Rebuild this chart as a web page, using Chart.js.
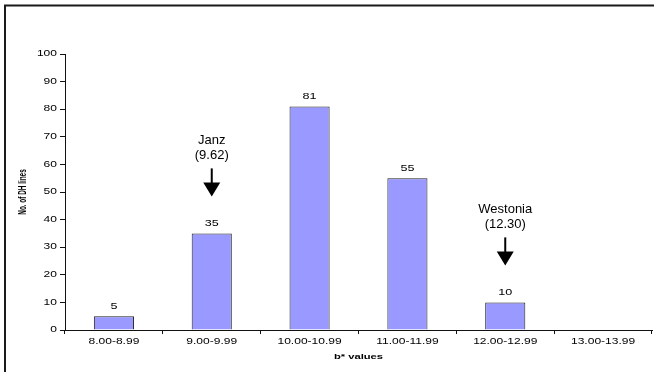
<!DOCTYPE html>
<html>
<head>
<meta charset="utf-8">
<title>b* values of DH lines</title>
<script src="https://cdn.jsdelivr.net/npm/chart.js@4/dist/chart.umd.min.js"></script>
<style>
  html, body { margin: 0; padding: 0; background: #fff; }
  canvas { display: block; }
</style>
</head>
<body>
<canvas id="chart" width="654" height="372"></canvas>
<script>
// b* value classes and the number of DH lines in each
const categories = ['8.00-8.99', '9.00-9.99', '10.00-10.99', '11.00-11.99', '12.00-12.99', '13.00-13.99'];
const lineCounts = [5, 35, 81, 55, 10, 0];

// value axis range
const yMin = 0;
const yMax = 100;
const yStep = 10;

// named check varieties, the class they fall in and their b* value
const markedNames = ['Janz', 'Westonia'];
const markedValues = ['9.62', '12.30'];
const markedCategories = ['9.00-9.99', '12.00-12.99'];

const FONT = "'Liberation Sans', Arial, sans-serif";
const TICK_TEXT_STRETCH = 1.45;
const TITLE_TEXT_STRETCH = 1.75;

const canvas = document.getElementById('chart');
const ctx = canvas.getContext('2d');

// The chart's own text is drawn wide (horizontally stretched about its anchor point);
// lines are left untouched. Bold text (axis titles) is widened more.
ctx.textStretch = null;
const nativeFillText = ctx.fillText.bind(ctx);
ctx.fillText = function (text, x, y, maxWidth) {
  const s = ctx.textStretch != null
    ? ctx.textStretch
    : (/bold/.test(ctx.font) ? TITLE_TEXT_STRETCH : TICK_TEXT_STRETCH);
  if (s === 1) {
    return maxWidth === undefined ? nativeFillText(text, x, y) : nativeFillText(text, x, y, maxWidth);
  }
  const m = ctx.getTransform();
  const p = m.transformPoint(new DOMPoint(x, y));
  ctx.save();
  ctx.setTransform(new DOMMatrix().translate(p.x, p.y).scale(s, 1).translate(-p.x, -p.y).multiply(m));
  if (maxWidth === undefined) nativeFillText(text, x, y);
  else nativeFillText(text, x, y, maxWidth);
  ctx.restore();
};

const frameAndNotes = {
  id: 'frameAndNotes',
  beforeDraw(chart) {
    const c = chart.ctx;
    c.save();
    c.fillStyle = '#fff';
    c.fillRect(0, 0, chart.width, chart.height);
    c.strokeStyle = '#1a1a1a';
    c.lineWidth = 2;
    c.beginPath();
    c.moveTo(5, chart.height + 5);
    c.lineTo(5, 5.5);
    c.lineTo(chart.width + 5, 5.5);
    c.stroke();
    c.restore();
  },
  afterDatasetsDraw(chart) {
    const c = chart.ctx;
    const meta = chart.getDatasetMeta(0);
    const xs = chart.scales.x;
    const ys = chart.scales.y;

    // value labels above the bars
    c.save();
    c.textStretch = 1.4;
    c.fillStyle = '#000';
    c.font = `9px ${FONT}`;
    c.textAlign = 'center';
    c.textBaseline = 'middle';
    meta.data.forEach((bar, i) => {
      const v = lineCounts[i];
      if (v > 0) c.fillText(String(v), bar.x, bar.y - 9.5);
    });
    c.restore();

    // named varieties: label, value and a down arrow above their class
    c.save();
    c.textStretch = 1;
    c.fillStyle = '#000';
    c.strokeStyle = '#000';
    c.font = `13px ${FONT}`;
    c.textAlign = 'center';
    c.textBaseline = 'middle';
    markedNames.forEach((name, k) => {
      const idx = categories.indexOf(markedCategories[k]);
      const x = xs.getPixelForValue(idx);
      const tip = ys.getPixelForValue(lineCounts[idx]) - 37;
      c.fillText(name, x, tip - 55.5);
      c.fillText(`(${markedValues[k]})`, x, tip - 40.5);
      c.lineWidth = 2;
      c.beginPath();
      c.moveTo(x, tip - 28);
      c.lineTo(x, tip - 13);
      c.stroke();
      c.beginPath();
      c.moveTo(x - 8.5, tip - 14);
      c.lineTo(x + 8.5, tip - 14);
      c.lineTo(x, tip);
      c.closePath();
      c.fill();
    });
    c.restore();
  }
};

new Chart(canvas, {
  type: 'bar',
  data: {
    labels: categories,
    datasets: [{
      data: lineCounts,
      backgroundColor: '#9999ff',
      borderColor: '#222',
      borderWidth: 1,
      barPercentage: 0.41,
      categoryPercentage: 1
    }]
  },
  options: {
    responsive: false,
    animation: false,
    events: [],
    layout: { padding: { left: 0, right: 2, top: 54, bottom: 0 } },
    plugins: {
      legend: { display: false },
      tooltip: { enabled: false }
    },
    scales: {
      x: {
        offset: true,
        grid: { offset: true, drawOnChartArea: false, drawTicks: true, tickLength: 4, color: '#111', lineWidth: 1 },
        border: { color: '#111', width: 1 },
        ticks: { color: '#000', font: { family: FONT, size: 8.3 }, padding: 3, maxRotation: 0, autoSkip: false },
        title: {
          display: true,
          text: 'b* values',
          color: '#000',
          font: { family: FONT, size: 6.4, weight: 'bold' },
          padding: { top: 0, bottom: 11 }
        },
        afterFit(scale) { scale.height = 42; }
      },
      y: {
        min: yMin,
        max: yMax,
        grid: { drawOnChartArea: false, drawTicks: true, tickLength: 5, color: '#111', lineWidth: 1 },
        border: { color: '#111', width: 1 },
        ticks: { stepSize: yStep, color: '#000', font: { family: FONT, size: 8.3 }, padding: 3 },
        title: {
          display: true,
          text: 'No. of DH lines',
          color: '#000',
          font: { family: FONT, size: 6.4, weight: 'bold' },
          padding: { top: 19, bottom: 0 }
        },
        afterFit(scale) { scale.width = 65; }
      }
    }
  },
  plugins: [frameAndNotes]
});
</script>
</body>
</html>
